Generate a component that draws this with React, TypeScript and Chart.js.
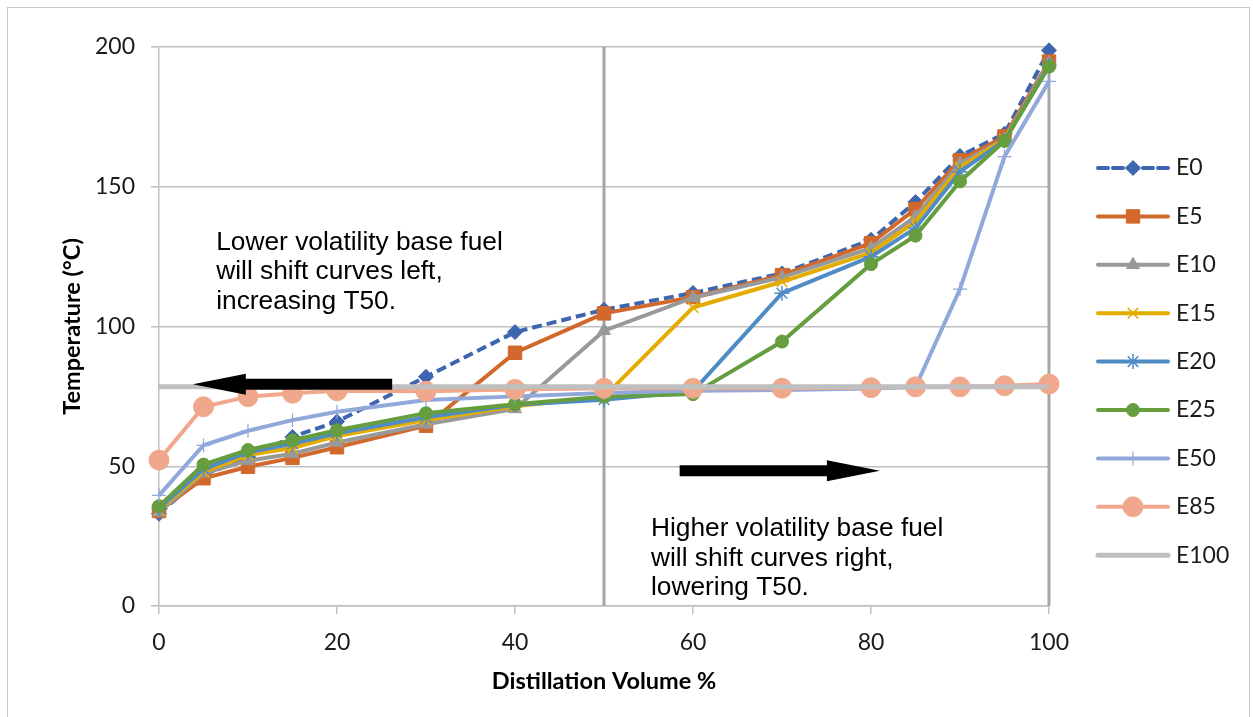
import React, { useEffect, useRef } from 'react';
import { Chart, registerables } from 'chart.js';
import { drawPoint } from 'chart.js/helpers';

Chart.register(...registerables);

// ---------- data ----------
const distillationVolume = [0, 5, 10, 15, 20, 30, 40, 50, 60, 70, 80, 85, 90, 95, 100];
const e0 = [33, 47, 53, 60.5, 66, 82, 98, 106, 112, 119, 131, 144.5, 161, 169, 198.8];
const e5 = [34, 45.7, 49.8, 53, 56.8, 64.5, 90.6, 104.7, 110.5, 118.4, 129.8, 142, 159.5, 168, 194.8];
const e10 = [33.5, 47.5, 52, 54.5, 58.5, 65, 70.5, 98.5, 110.3, 117.6, 128, 139.3, 158.3, 167, 194.3];
const e15 = [34.5, 48, 54, 56.5, 60.8, 66.5, 71.5, 74.8, 106.8, 116, 126.4, 137.5, 157, 167, 193.5];
const e20 = [35, 49, 55, 58, 61.8, 67.5, 72, 73.8, 76.8, 111.9, 125, 135.2, 155.4, 166.5, 193.5];
const e25 = [35.7, 50.6, 55.8, 59.3, 62.9, 69, 72.2, 74.9, 75.8, 94.6, 122.3, 132.5, 151.9, 166.4, 193];
const e50 = [39.6, 57.5, 62.7, 66.5, 69.5, 73.7, 75, 76.2, 77, 77.3, 77.8, 78.3, 113.4, 160.8, 187.7];
const e85 = [52.2, 71.3, 74.9, 76.1, 77, 76.8, 77.5, 77.9, 77.9, 77.9, 78.1, 78.4, 78.4, 78.8, 79.4];
const e100 = [78.4, 78.4, 78.4, 78.4, 78.4, 78.4, 78.4, 78.4, 78.4, 78.4, 78.4, 78.4, 78.4, 78.4, 78.4];

const seriesNames = ['E0', 'E5', 'E10', 'E15', 'E20', 'E25', 'E50', 'E85', 'E100'];
const seriesValues = [e0, e5, e10, e15, e20, e25, e50, e85, e100];

const xTickStep = 20;
const yTickStep = 50;
const referenceLineX = [50, 100];

const xTitle = 'Distillation Volume %';
const yTitle = 'Temperature (°C)';
const leftNote = ['Lower volatility base fuel', 'will shift curves left,', 'increasing T50.'];
const rightNote = ['Higher volatility base fuel', 'will shift curves right,', 'lowering T50.'];

// ---------- styles ----------
const seriesStyles: any[] = [
  { color: '#3E65B0', dash: [10, 5], pointStyle: 'rectRot', radius: 7.5, pbw: 1 },
  { color: '#D2692C', dash: [], pointStyle: 'rect', radius: 9.5, pbw: 1 },
  { color: '#999999', dash: [], pointStyle: 'triangle', radius: 7.5, pbw: 1 },
  { color: '#E5AC00', dash: [], pointStyle: 'crossRot', radius: 7.5, pbw: 1.5 },
  { color: '#4F8CC6', dash: [], pointStyle: 'star', radius: 7.5, pbw: 1.5 },
  { color: '#659D3F', dash: [], pointStyle: 'circle', radius: 6.5, pbw: 1 },
  { color: '#91A8DA', dash: [], pointStyle: 'cross', radius: 7, pbw: 1.2 },
  { color: '#F0A88C', dash: [], pointStyle: 'circle', radius: 10, pbw: 1 },
  { color: '#BFBFBF', dash: [], pointStyle: false, radius: 0, pbw: 0 },
];

const TICK_FONT = { family: 'Lato', size: 23 };
const TITLE_FONT = { family: 'Lato', size: 23.5, weight: 'bold' as const };
const NOTE_FONT = '26.3px "Liberation Sans", Arial, sans-serif';
const GRID = '#BFBFBF';

const arrows = [
  { from: [26.2, 79.3], to: [3.8, 79.3] },
  { from: [58.5, 48.4], to: [81.0, 48.4] },
];
const notes = [
  { x: 6.43, y: 127.4, lines: leftNote },
  { x: 55.28, y: 25.0, lines: rightNote },
];

const legendPlugin = {
  id: 'lineLegend',
  afterDraw(chart: any) {
    const { ctx, chartArea } = chart;
    const x0 = chartArea.right + 49;
    const x1 = x0 + 70;
    const textX = x1 + 8;
    const y0 = 168;
    const step = 48.4;
    let i = 0;
    chart.data.datasets.forEach((ds: any) => {
      if (ds.isRefLine) return;
      const y = y0 + i * step;
      i++;
      ctx.save();
      ctx.strokeStyle = ds.borderColor;
      ctx.lineWidth = ds.borderWidth;
      ctx.lineCap = 'round';
      ctx.setLineDash(ds.borderDash || []);
      ctx.beginPath();
      ctx.moveTo(x0, y);
      ctx.lineTo(x1, y);
      ctx.stroke();
      ctx.setLineDash([]);
      if (ds.pointStyle && ds.pointRadius > 0) {
        ctx.fillStyle = ds.pointBackgroundColor;
        ctx.strokeStyle = ds.pointBorderColor;
        ctx.lineWidth = ds.pointBorderWidth;
        ctx.lineCap = 'butt';
        drawPoint(ctx, { pointStyle: ds.pointStyle, rotation: 0, radius: ds.pointRadius, borderWidth: ds.pointBorderWidth } as any, (x0 + x1) / 2, y);
      }
      ctx.fillStyle = '#1a1a1a';
      ctx.font = `${TICK_FONT.size}px ${TICK_FONT.family}`;
      ctx.textBaseline = 'middle';
      ctx.textAlign = 'left';
      ctx.fillText(ds.label, textX, y);
      ctx.restore();
    });
  },
};

const annotationPlugin = {
  id: 'notesArrows',
  afterDatasetsDraw(chart: any) {
    const { ctx, scales } = chart;
    const sx = scales.x;
    const sy = scales.y;
    ctx.save();
    ctx.fillStyle = '#000';
    arrows.forEach((a) => {
      const fx = sx.getPixelForValue(a.from[0]);
      const tx = sx.getPixelForValue(a.to[0]);
      const y = sy.getPixelForValue(a.from[1]);
      const dir = tx > fx ? 1 : -1;
      const headLen = 53;
      const shaftHalf = 5.5;
      const headHalf = 10.5;
      const hb = tx - dir * headLen;
      ctx.beginPath();
      ctx.moveTo(fx, y - shaftHalf);
      ctx.lineTo(hb, y - shaftHalf);
      ctx.lineTo(hb, y - headHalf);
      ctx.lineTo(tx, y);
      ctx.lineTo(hb, y + headHalf);
      ctx.lineTo(hb, y + shaftHalf);
      ctx.lineTo(fx, y + shaftHalf);
      ctx.closePath();
      ctx.fill();
    });
    ctx.font = NOTE_FONT;
    ctx.textAlign = 'left';
    ctx.textBaseline = 'alphabetic';
    notes.forEach((n) => {
      const x = sx.getPixelForValue(n.x);
      const y = sy.getPixelForValue(n.y);
      n.lines.forEach((line, k) => ctx.fillText(line, x, y + k * 29.4));
    });
    ctx.restore();
  },
};

export default function App() {
  const ref = useRef<HTMLCanvasElement>(null);
  useEffect(() => {
    if (!ref.current) return;
    const datasets: any[] = seriesNames.map((name, i) => {
      const st = seriesStyles[i];
      return {
        label: name,
        data: distillationVolume.map((x, k) => ({ x, y: seriesValues[i][k] })),
        borderColor: st.color,
        backgroundColor: st.color,
        borderWidth: name === 'E100' ? 5 : 4,
        borderDash: st.dash,
        pointStyle: st.pointStyle,
        pointRadius: st.radius,
        pointHoverRadius: st.radius,
        pointBackgroundColor: st.color,
        pointBorderColor: st.color,
        pointBorderWidth: st.pbw,
        tension: 0,
        clip: false,
        order: 10 - i,
      };
    });
    referenceLineX.forEach((xv) => {
      datasets.push({
        label: 'ref' + xv,
        isRefLine: true,
        data: [{ x: xv, y: 0 }, { x: xv, y: 200 }],
        borderColor: '#A6A6A6',
        borderWidth: 3,
        pointRadius: 0,
        clip: false,
        order: 50,
      });
    });
    const chart = new Chart(ref.current, {
      type: 'line',
      data: { datasets },
      plugins: [annotationPlugin, legendPlugin],
      options: {
        responsive: false,
        animation: false,
        devicePixelRatio: 1,
        layout: { padding: { top: 47, right: 204, left: 0, bottom: 0 } },
        plugins: { legend: { display: false }, tooltip: { enabled: false } },
        scales: {
          x: {
            type: 'linear',
            min: 0,
            max: 100,
            ticks: { stepSize: xTickStep, font: TICK_FONT, color: '#1a1a1a', padding: 15, maxRotation: 0 },
            grid: { drawOnChartArea: false, drawTicks: true, tickLength: 8, color: GRID, lineWidth: 1.5 },
            border: { display: true, color: GRID, width: 1.5 },
            title: { display: true, text: xTitle, font: TITLE_FONT, color: '#000', padding: { top: 0, bottom: 21 } },
            afterFit: (s: any) => { s.height = 111; },
          },
          y: {
            type: 'linear',
            min: 0,
            max: 200,
            ticks: { stepSize: yTickStep, font: TICK_FONT, color: '#1a1a1a', padding: 16 },
            grid: { drawTicks: true, tickLength: 8, color: GRID, lineWidth: 1.5 },
            border: { display: true, color: GRID, width: 1.5 },
            title: { display: true, text: yTitle, font: TITLE_FONT, color: '#000', padding: { top: 58, bottom: 0 } },
            afterFit: (s: any) => { s.width = 159; },
          },
        },
      } as any,
    });
    return () => chart.destroy();
  }, []);
  return (
    <div style={{ position: 'fixed', left: 0, top: 0, width: 1253, height: 717, overflow: 'hidden', background: '#fff' }}>
      <div style={{ position: 'absolute', left: 7, top: 7, width: 1243, height: 730, border: '1px solid #C8C8C8', boxSizing: 'border-box' }} />
      <canvas ref={ref} width={1253} height={717} style={{ position: 'absolute', left: 0, top: 0, width: 1253, height: 717 }} />
    </div>
  );
}
